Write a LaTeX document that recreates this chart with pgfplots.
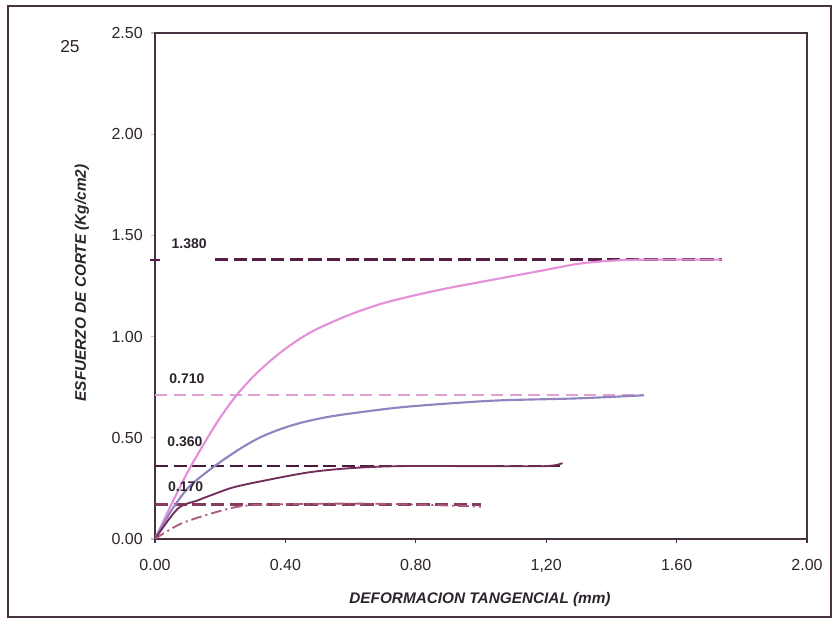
\documentclass[border=0pt]{standalone}
\usepackage{fontspec}
\setmainfont{Liberation Sans}
\usepackage{pgfplots}
\pgfplotsset{compat=1.18}
\definecolor{axiscol}{RGB}{70,50,65}
\definecolor{txtcol}{RGB}{45,35,45}
\definecolor{pinkc}{RGB}{228,145,218}
\definecolor{bluec}{RGB}{145,132,192}
\definecolor{darkc}{RGB}{115,45,90}
\definecolor{dotc}{RGB}{170,90,125}
\definecolor{dashA}{RGB}{85,28,68}
\definecolor{dashB}{RGB}{225,160,212}
\definecolor{dashC}{RGB}{72,25,58}
\definecolor{dashD}{RGB}{135,60,95}
\begin{document}
\begin{tikzpicture}
\useasboundingbox (-116.25pt,-60.75pt) rectangle (508.5pt,404.25pt);
\draw[axiscol, line width=1.5pt] (-110.25pt,-58.5pt) rectangle (507pt,399.75pt);
\node[txtcol, font=\fontsize{13}{15}\selectfont] at (-63.75pt,369pt) {25};
\begin{axis}[
    at={(0,0)}, anchor=south west,
    scale only axis, width=489pt, height=379.5pt,
    xmin=0, xmax=2, ymin=0, ymax=2.5,
    xtick={0,0.4,0.8,1.2,1.6,2.0},
    xticklabels={0.00,0.40,0.80,{1,20},1.60,2.00},
    ytick={0,0.5,1,1.5,2,2.5},
    yticklabels={0.00,0.50,1.00,1.50,2.00,2.50},
    xtick pos=bottom, ytick pos=left,
    tick align=outside, major tick length=3pt,
    xtick style={draw=axiscol, line width=1pt},
    ytick style={draw=black!25, line width=0.8pt},
    axis line style={draw=axiscol, line width=2.2pt},
    tick label style={font=\fontsize{12}{14}\selectfont, text=txtcol},
    xticklabel style={inner sep=0pt, yshift=-12pt},
    yticklabel style={inner sep=0pt, xshift=-6pt},
    extra y ticks={1.38},
    extra y tick labels={},
    extra y tick style={major tick length=8pt, tick align=center, ytick style={draw=dashA, line width=1.5pt}},
  ]
  % horizontal reference lines
  \addplot[dashA, line width=2pt, dash pattern=on 10pt off 4pt] coordinates {(0.184,1.38) (1.74,1.38)};
  \addplot[dashB, line width=1.8pt, dash pattern=on 9pt off 5pt] coordinates {(0,0.71) (1.50,0.71)};
  \addplot[dashC, line width=2pt, dash pattern=on 10pt off 4pt] coordinates {(0,0.36) (1.25,0.36)};
  \addplot[dashD, line width=2pt, dash pattern=on 10pt off 4pt] coordinates {(0,0.17) (1.00,0.17)};
  % curves
  \addplot[pinkc, line width=1.6pt, smooth, tension=0.5] coordinates {
    (0,0) (0.05,0.17) (0.10,0.33) (0.15,0.47) (0.20,0.60) (0.25,0.71)
    (0.30,0.80) (0.35,0.875) (0.40,0.94) (0.45,0.995) (0.50,1.04) (0.60,1.11)
    (0.70,1.165) (0.80,1.205) (0.90,1.24) (1.00,1.27) (1.10,1.30) (1.20,1.33)
    (1.30,1.36) (1.40,1.375) (1.50,1.38) (1.74,1.38)};
  \addplot[bluec, line width=1.6pt, smooth, tension=0.5] coordinates {
    (0,0) (0.05,0.14) (0.10,0.25) (0.15,0.32) (0.20,0.38) (0.26,0.445)
    (0.32,0.50) (0.38,0.54) (0.445,0.573) (0.52,0.60) (0.60,0.62) (0.75,0.65)
    (0.905,0.67) (1.06,0.685) (1.30,0.695) (1.50,0.71)};
  \addplot[darkc, line width=1.4pt, smooth, tension=0.5] coordinates {
    (0,0) (0.07,0.15) (0.13,0.19) (0.17,0.215) (0.24,0.255) (0.34,0.29)
    (0.475,0.33) (0.60,0.35) (0.75,0.36) (1.00,0.36) (1.20,0.36) (1.25,0.375)};
  \addplot[dotc, line width=1.4pt, smooth, tension=0.5, dash pattern=on 8pt off 3pt on 1.5pt off 3pt] coordinates {
    (0,0) (0.086,0.08) (0.24,0.155) (0.35,0.17) (0.60,0.175) (0.80,0.17) (1.00,0.16)};
  % value labels
  \begin{scope}[every node/.style={font=\bfseries\fontsize{10.5}{12}\selectfont, text=txtcol}]
  \node at (axis cs:0.105,1.457) {1.380};
  \node at (axis cs:0.098,0.79) {0.710};
  \node at (axis cs:0.092,0.48) {0.360};
  \node at (axis cs:0.094,0.257) {0.170};
  \end{scope}
\end{axis}
\node[txtcol, font=\bfseries\itshape\fontsize{11.5}{13}\selectfont] at (243.75pt,-45.75pt) {DEFORMACION TANGENCIAL (mm)};
\node[txtcol, rotate=90, font=\bfseries\itshape\fontsize{11.5}{13}\selectfont] at (-54.75pt,192pt) {ESFUERZO DE CORTE (Kg/cm2)};
\end{tikzpicture}
\end{document}
